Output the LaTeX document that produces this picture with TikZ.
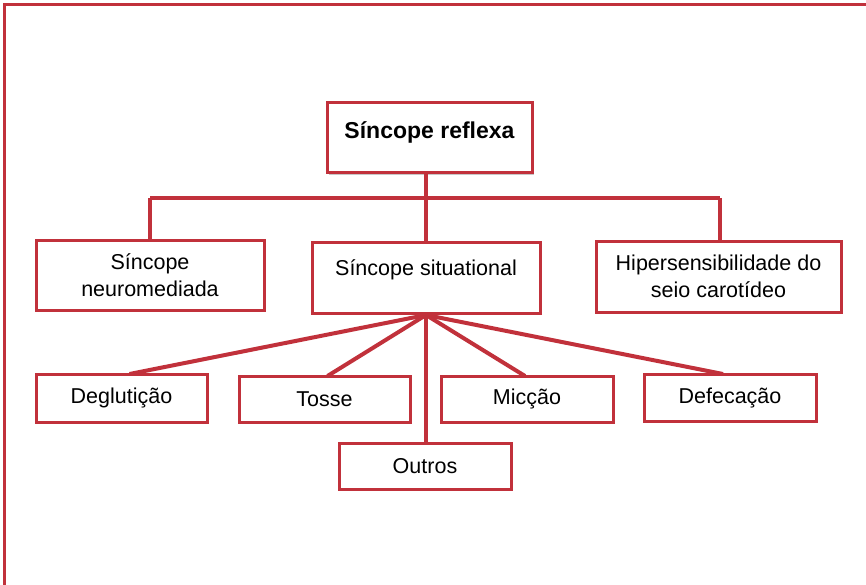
\documentclass[tikz,border=0pt]{standalone}
\usepackage{fontspec}
\setmainfont{Liberation Sans}
\usetikzlibrary{shadows}
\definecolor{frameRed}{RGB}{193,49,59}
\begin{document}
\begin{tikzpicture}[x=1pt,y=-1pt,
  box/.style={draw=frameRed, line width=3pt, fill=white, inner sep=0pt, outer sep=0pt,
    align=center, font=\fontsize{21.5}{27.5}\selectfont,
    drop shadow={shadow xshift=2pt, shadow yshift=-2pt, fill=black, opacity=0.22}},
  link/.style={draw=frameRed, line width=4pt}]
\useasboundingbox (0,0) rectangle (866,585);
% outer frame (only the top and left edges fall inside the page)
\draw[frameRed, line width=3pt] (4,590) -- (4,5) -- (870,5);

% boxes
\node[box, minimum width=205pt, minimum height=70pt,
      font=\fontsize{23}{28}\bfseries, text height=17pt, text depth=15pt]
  (root) at (429.5,138) {Síncope reflexa};
\node[box, minimum width=228pt, minimum height=70pt] (neuro) at (150,275)
  {Síncope\\neuromediada};
\node[box, minimum width=228pt, minimum height=71pt, text height=16pt, text depth=20pt]
  (situ) at (426,277.5) {Síncope situational};
\node[box, minimum width=245pt, minimum height=71pt] (hiper) at (718.5,276.5)
  {Hipersensibilidade do\\seio carotídeo};
\node[box, minimum width=171pt, minimum height=48pt] (deg) at (121.5,398) {Deglutição};
\node[box, minimum width=171pt, minimum height=46pt] (tosse) at (324.5,399) {Tosse};
\node[box, minimum width=172pt, minimum height=46pt] (mic) at (527,399) {Micção};
\node[box, minimum width=172pt, minimum height=47pt] (def) at (730,397.5) {Defecação};
\node[box, minimum width=172pt, minimum height=46pt] (outros) at (425,466) {Outros};

% tree connectors
\coordinate (busL) at (150,198);
\coordinate (busR) at (720,198);
\coordinate (busM) at (426,198);
\coordinate (fan) at (426,315);
\draw[link] (busL) -- (busR);
\draw[link] (root.south -| busM) -- (situ.north -| busM);
\draw[link] (busL) -- (neuro.north -| busL);
\draw[link] (busR) -- (hiper.north -| busR);
\draw[link] (fan) -- ([xshift=8pt]deg.north);
\draw[link] (fan) -- ([xshift=3pt]tosse.north);
\draw[link] (fan) -- ([xshift=-2pt]mic.north);
\draw[link] (fan) -- ([xshift=-7pt]def.north);
\draw[link] (fan) -- (outros.north -| fan);
\end{tikzpicture}
\end{document}
